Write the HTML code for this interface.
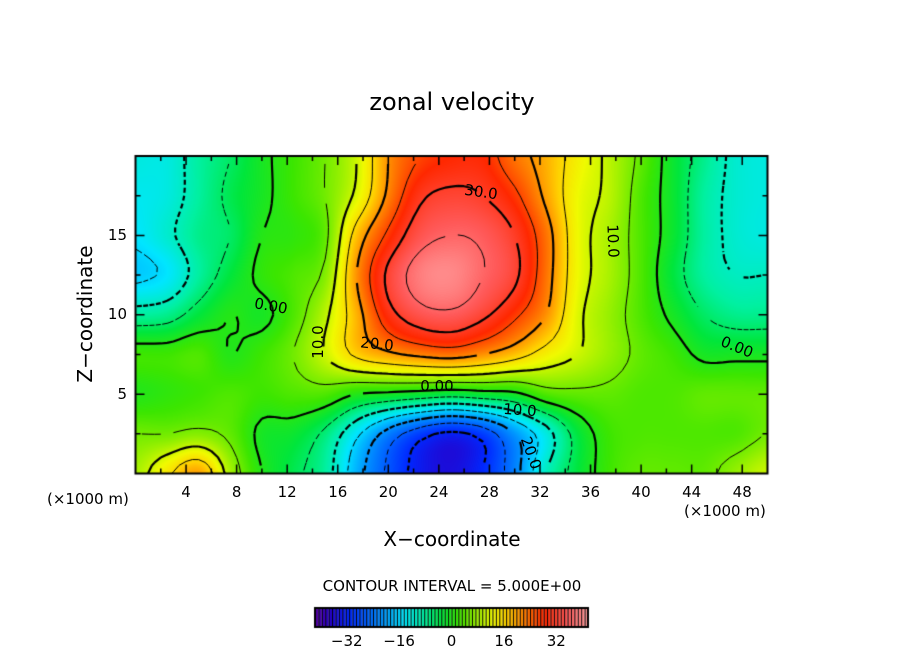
<!DOCTYPE html>
<html><head><meta charset="utf-8">
<style>
html,body{margin:0;padding:0;background:#fff;width:904px;height:654px;overflow:hidden;font-family:"DejaVu Sans","Liberation Sans",sans-serif;}
#wrap{position:relative;width:904px;height:654px;}
.t{position:absolute;color:#000;white-space:nowrap;}
canvas{position:absolute;left:0;top:0;}
</style></head>
<body>
<div id="wrap">
<canvas id="cv" width="904" height="654"></canvas>
<div class="t" style="left:0;width:904px;text-align:center;top:88px;font-size:24px;">zonal velocity</div>
<div class="t" style="left:85px;top:314px;font-size:20px;transform:translate(-50%,-50%) rotate(-90deg);">Z−coordinate</div>
<div class="t" style="left:0;width:904px;text-align:center;top:527px;font-size:20px;">X−coordinate</div>
<div class="t" style="left:47px;top:490px;font-size:15px;">(×1000 m)</div>
<div class="t" style="left:684px;top:502px;font-size:15px;">(×1000 m)</div>
<div class="t" style="left:0;width:904px;text-align:center;top:577px;font-size:15px;">CONTOUR INTERVAL = 5.000E+00</div>
<div id="labels"></div>
</div>
<script>
const xCoords=[0,2.5,5,7.5,10,12.5,15,17.5,20,22.5,25,27.5,30,32.5,35,37.5,40,42.5,45,47.5,50];
const zCoords=[20,17.5,15,12.5,10,7.5,5,2.5,0];
const row20=[-12,-12,-8,-5,-1,2,5,10,20,25,27,27,22,18,13,9,4,-2,-7,-11,-12];
const row175=[-13,-12,-8,-4,-1,2,5,11,21,29,31,30,26,19,12,9,3,-2,-8,-11,-12];
const row15=[-14,-11,-7,-5,0,1,4,17,26,33,35,34,30,22,12,8,3,-2,-8,-11,-12];
const row125=[-16,-14,-8,-3,1,3,6,20,31,37,38,35,31,22,12,8,3,-3,-8,-10,-10];
const row10=[-8,-7,-3,0,-1,3,9,18,28,33,34,31,26,20,11,7,3,-1,-5,-7,-7];
const row75=[2,2,3,0,2,5,10,16,19,21,22,20,17,13,10,7,4,2,-1,-1,-1];
const row5=[0,1,2,3,2,3,3,0,-1,-2,-3,-2,-1,3,4,4,3,3,4,4,4];
const row25=[5,5,6,4,-1,-2,-6,-14,-22,-28,-31,-28,-20,-12,-3,2,3,3,3,3,5];
const row0=[8,14,19,8,0,-4,-8,-18,-26,-32,-34,-30,-22,-10,-3,2,4,4,4,7,10];
const rows=[row20,row175,row15,row125,row10,row75,row5,row25,row0];
const xTicks=[4,8,12,16,20,24,28,32,36,40,44,48];
const zTicks=[5,10,15];
const cbTicks=[-32,-16,0,16,32];
const levels=[-35,-30,-25,-20,-15,-10,-5,0,5,10,15,20,25,30,35];

const L=135.5,R=767.5,T=156,B=473.5;
const X=x=>L+x/50*(R-L);
const Z=z=>B-z/20*(B-T);
function cr(p0,p1,p2,p3,t){return 0.5*((2*p1)+(-p0+p2)*t+(2*p0-5*p1+4*p2-p3)*t*t+(-p0+3*p1-3*p2+p3)*t*t*t);}
function val(x,z){
  let fi=x/2.5, fj=(20-z)/2.5;
  let i=Math.min(Math.floor(fi),xCoords.length-2), j=Math.min(Math.floor(fj),zCoords.length-2);
  let tx=fi-i, tz=fj-j;
  const g=(a,b)=>rows[Math.max(0,Math.min(rows.length-1,b))][Math.max(0,Math.min(xCoords.length-1,a))];
  let c=[];
  for(let k=-1;k<3;k++) c.push(cr(g(i-1,j+k),g(i,j+k),g(i+1,j+k),g(i+2,j+k),tx));
  return cr(c[0],c[1],c[2],c[3],tz);
}
const stops=[[-42,110,0,140],[-36,40,0,200],[-30,0,40,255],[-20,0,150,255],[-14,0,230,255],[-8,0,240,160],[-3,0,230,60],[2,60,230,0],[7,150,240,0],[12,240,250,0],[16,255,210,0],[21,255,130,0],[27,255,40,0],[34,255,90,90],[40,255,160,160],[42,255,180,180]];
function col(v){
  if(v<=stops[0][0])return stops[0].slice(1);
  for(let k=1;k<stops.length;k++){if(v<=stops[k][0]){let a=stops[k-1],b=stops[k],t=(v-a[0])/(b[0]-a[0]);return [0,1,2].map(m=>Math.round(a[m+1]+(b[m+1]-a[m+1])*t));}}
  return stops[stops.length-1].slice(1);
}
const cv=document.getElementById('cv'),ctx=cv.getContext('2d');
const x0=Math.ceil(L),x1=Math.floor(R),y0=Math.ceil(T),y1=Math.floor(B);
const img=ctx.createImageData(x1-x0,y1-y0);
for(let py=y0;py<y1;py++)for(let px=x0;px<x1;px++){
  const x=(px+0.5-L)/(R-L)*50, z=(B-py-0.5)/(B-T)*20;
  const c=col(val(x,z)); const o=((py-y0)*(x1-x0)+(px-x0))*4;
  img.data[o]=c[0];img.data[o+1]=c[1];img.data[o+2]=c[2];img.data[o+3]=255;
}
ctx.putImageData(img,x0,y0);
const N=100,M=40,G=[];
for(let j=0;j<=M;j++){G.push([]);for(let i=0;i<=N;i++)G[j].push(val(i*50/N,20-j*20/M));}
ctx.save();ctx.beginPath();ctx.rect(L,T,R-L,B-T);ctx.clip();
levels.forEach(lv=>{
  ctx.beginPath();
  const P=(i,j)=>[X(i*50/N),Z(20-j*20/M)];
  for(let j=0;j<M;j++)for(let i=0;i<N;i++){
    const a=G[j][i],b=G[j][i+1],c=G[j+1][i+1],d=G[j+1][i];
    const pts=[];
    const e=(v1,v2,p1,p2)=>{if((v1-lv)*(v2-lv)<0){const t=(lv-v1)/(v2-v1);pts.push([p1[0]+(p2[0]-p1[0])*t,p1[1]+(p2[1]-p1[1])*t]);}};
    e(a,b,P(i,j),P(i+1,j));e(b,c,P(i+1,j),P(i+1,j+1));e(c,d,P(i+1,j+1),P(i,j+1));e(d,a,P(i,j+1),P(i,j));
    for(let k=0;k+1<pts.length;k+=2){ctx.moveTo(pts[k][0],pts[k][1]);ctx.lineTo(pts[k+1][0],pts[k+1][1]);}
  }
  const major=lv%10===0;
  ctx.lineWidth=major?2.2:1;
  ctx.setLineDash(lv<0?[5,4]:[]);
  ctx.strokeStyle='#000';ctx.stroke();
});
ctx.restore();ctx.setLineDash([]);
ctx.strokeStyle='#000';ctx.lineWidth=2;ctx.strokeRect(L,T,R-L,B-T);
ctx.lineWidth=1.5;
for(let x=2;x<50;x+=2){const len=x%4===0?9:5;ctx.beginPath();ctx.moveTo(X(x),B);ctx.lineTo(X(x),B-len);ctx.moveTo(X(x),T);ctx.lineTo(X(x),T+len);ctx.stroke();}
for(let z=2.5;z<20;z+=2.5){const len=z%5===0?9:5;ctx.beginPath();ctx.moveTo(L,Z(z));ctx.lineTo(L+len,Z(z));ctx.moveTo(R,Z(z));ctx.lineTo(R-len,Z(z));ctx.stroke();}
const cbL=315,cbR=588,cbT=608,cbB=627,nC=80;
for(let k=0;k<nC;k++){const v=-40+(k+0.5);const c=col(v);ctx.fillStyle=`rgb(${c[0]},${c[1]},${c[2]})`;const xa=cbL+k*(cbR-cbL)/nC;ctx.fillRect(xa,cbT,(cbR-cbL)/nC,cbB-cbT);
 ctx.fillStyle='#000';ctx.fillRect(xa,cbT,1,cbB-cbT);}
ctx.lineWidth=2;ctx.strokeRect(cbL,cbT,cbR-cbL,cbB-cbT);
const lab=document.getElementById('labels');
function addText(name,txt,x,y,size,align){const d=document.createElement('div');d.className='t';


d.textContent=txt;d.style.fontSize=size+'px';d.style.top=(y-size/2-2)+'px';
if(align==='c'){d.style.left=(x-50)+'px';d.style.width='100px';d.style.textAlign='center';}else{d.style.left=(x-100)+'px';d.style.width='100px';d.style.textAlign='right';}
lab.appendChild(d);}
xTicks.forEach(t=>addText('x-tick-label','' +t,X(t),492,15,'c'));
zTicks.forEach(t=>addText('z-tick-label',''+t,127,Z(t),15,'r'));
const cbX=v=>cbL+(v+41.7)/(83.4)*(cbR-cbL);
cbTicks.forEach(t=>addText('colorbar-tick-label',(t<0?'−':'')+Math.abs(t),cbX(t),641,15,'c'));
function clab(txt,x,y,rot){const d=document.createElement('div');d.className='t';


d.textContent=txt;d.style.fontSize='15px';d.style.left=x+'px';d.style.top=y+'px';d.style.transform='translate(-50%,-50%) rotate('+rot+'deg)';lab.appendChild(d);}
clab('30.0',481,192,8);clab('20.0',377,344,6);clab('10.0',318,342,-90);clab('0.00',271,306,10);
clab('0.00',437,386,0);clab('10.0',520,410,4);clab('20.0',531,453,70);clab('10.0',613,241,88);clab('0.00',737,347,22);
</script>
</body></html>
